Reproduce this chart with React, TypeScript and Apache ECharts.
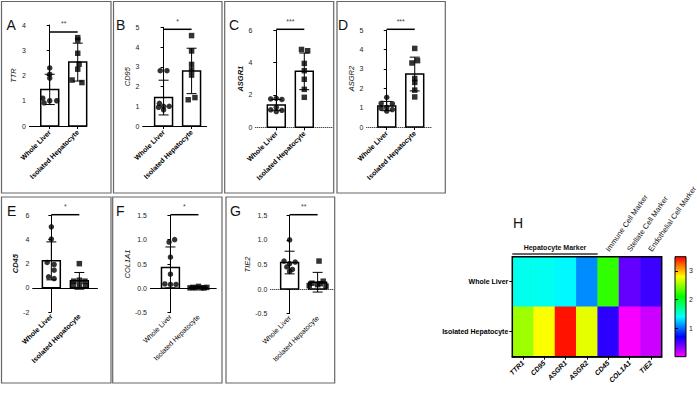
import React, { useEffect, useRef } from 'react';
import * as echarts from 'echarts';

// ---------------- DATA ----------------
const GROUPS = ['Whole Liver', 'Isolated Hepatocyte'];
const GENES = ['TTR1', 'CD95', 'ASGR1', 'ASGR2', 'CD45', 'COL1A1', 'TIE2'];
const MARKER_LABELS = ['', '', '', '', 'Immune Cell Marker', 'Stellate Cell Marker', 'Endothelial Cell Marker'];
const HEAT_ROWS = ['Isolated Hepatocyte', 'Whole Liver'];

// A: TTR
const A_WL = [2.3, 2.05, 1.9, 1.1, 1.0, 1.0, 0.92];
const A_ISO = [3.5, 3.4, 2.88, 2.45, 2.25, 1.82, 1.72];
const A_MEAN = [1.45, 2.53];
const A_SD = [0.6, 0.75];
// B: CD95
const B_WL = [2.8, 2.8, 1.15, 1.0, 1.0, 0.95, 0.82];
const B_ISO = [4.58, 3.8, 3.12, 2.84, 2.58, 1.44, 1.33];
const B_MEAN = [1.44, 2.79];
const B_SD = [0.88, 1.15];
// C: ASGR1
const C_WL = [1.75, 1.79, 1.72, 1.23, 1.08, 1.05, 0.97];
const C_ISO = [4.8, 4.72, 3.94, 3.49, 2.96, 2.34, 1.85];
const C_MEAN = [1.38, 3.45];
const C_SD = [0.33, 1.13];
// D: ASGR2
const D_WL = [1.53, 1.22, 1.2, 1.01, 0.96, 0.9, 0.82];
const D_ISO = [4.05, 3.42, 3.3, 2.5, 2.3, 1.9, 1.55];
const D_MEAN = [1.08, 2.73];
const D_SD = [0.24, 0.87];
// E: CD45
const E_WL = [5.05, 4.03, 2.1, 1.93, 1.46, 0.91, 0.77];
const E_ISO = [2.0, 0.63, 0.55, 0.55, 0.22, 0.17, 0.17];
const E_MEAN = [2.23, 0.58];
const E_SD = [1.57, 0.69];
// F: COL1A1
const F_WL = [1.0, 0.95, 0.64, 0.29, 0.09, 0.08, 0.08];
const F_ISO = [0.04, 0.02, 0.01, 0.01, 0.01, 0.01, 0.02];
const F_MEAN = [0.43, 0.02];
const F_SD = [0.42, 0.015];
// G: TIE2
const G_WL = [1.0, 0.57, 0.55, 0.52, 0.45, 0.4, 0.36];
const G_ISO = [0.57, 0.16, 0.12, 0.09, 0.07, 0.06, 0.11];
const G_MEAN = [0.54, 0.14];
const G_SD = [0.23, 0.2];

// Heatmap (means)
const HEAT_WL = [1.45, 1.44, 1.38, 1.08, 2.23, 0.43, 0.54];
const HEAT_ISO = [2.53, 2.79, 3.45, 2.73, 0.58, 0.02, 0.14];

// point spread (horizontal jitter, in category units)
const JIT = {
  A: [[0, 0, 0, -0.25, 0, 0.25, -0.2], [0, 0, 0, 0.05, 0, -0.2, 0.15]],
  B: [[-0.12, 0.12, -0.15, 0, 0.2, -0.18, 0], [0, 0, 0, 0, 0, 0.12, -0.12]],
  C: [[-0.2, 0, 0.2, 0, -0.2, 0.2, 0], [-0.1, 0.12, 0, 0, 0, 0, 0]],
  D: [[0, -0.2, 0.2, 0, -0.2, 0.2, 0], [0, 0.1, -0.1, 0, 0, 0, 0]],
  E: [[0, 0, -0.15, 0.1, 0.1, -0.1, 0.1], [0, 0, -0.2, 0.2, -0.22, 0, 0.22]],
  F: [[0.15, -0.05, 0, 0, -0.2, 0, 0.2], [0, -0.2, 0.2, -0.1, 0.1, -0.3, 0.3]],
  G: [[0, -0.2, 0.2, 0, -0.1, 0.1, 0], [0.05, 0.2, -0.2, 0, -0.3, 0.3, 0.1]],
};

const COLORS = ['#ff00ff', '#8000ff', '#0000ff', '#0080ff', '#00ffff', '#00ff80', '#00ff00', '#80ff00', '#ffff00', '#ff8000', '#ff0000'];
const HEAT_MIN = 0;
const HEAT_MAX = 3.5;
const CB_TICKS = [1, 2, 3];

// ---------------- LAYOUT ----------------
const FONT = "'Liberation Sans', Arial, sans-serif";
const PXU = 28; // px per category unit
const HALF = 0.32;

type Panel = {
  key: string; letter: string; name: string; nameBold: boolean; labelBold: boolean; dotted: boolean;
  wl: number[]; iso: number[]; mean: number[]; sd: number[]; stars: string;
  left: number; xmin: number; xmax: number; top: number; bottom: number;
  ymin: number; ymax: number; interval: number; dec: number; nameGap: number;
  box: [number, number, number, number]; lx: number; ly: number; sigY: number; starY: number; ticks: boolean;
};

const PANELS: Panel[] = [
  { key: 'A', letter: 'A', name: 'TTR', nameBold: false, labelBold: true, dotted: false, wl: A_WL, iso: A_ISO, mean: A_MEAN, sd: A_SD, stars: '**',
    left: 29, xmin: -0.74, xmax: 1.33, top: 25, bottom: 126, ymin: 0, ymax: 4, interval: 1, dec: 0, nameGap: 12,
    box: [1.5, 1.5, 109.5, 191.5], lx: 6.5, ly: 18, sigY: 32, starY: 23, ticks: true },
  { key: 'B', letter: 'B', name: 'CD95', nameBold: false, labelBold: true, dotted: false, wl: B_WL, iso: B_ISO, mean: B_MEAN, sd: B_SD, stars: '*',
    left: 142.3, xmin: -0.76, xmax: 1.55, top: 27.3, bottom: 126, ymin: 0, ymax: 5, interval: 1, dec: 0, nameGap: 10,
    box: [113.5, 1.5, 108.5, 191.5], lx: 116, ly: 18, sigY: 29.3, starY: 21, ticks: true },
  { key: 'C', letter: 'C', name: 'ASGR1', nameBold: true, labelBold: true, dotted: true, wl: C_WL, iso: C_ISO, mean: C_MEAN, sd: C_SD, stars: '***',
    left: 255.3, xmin: -0.75, xmax: 2.0, top: 30, bottom: 127.3, ymin: 0, ymax: 6, interval: 2, dec: 0, nameGap: 10,
    box: [224.7, 1.5, 109, 191.5], lx: 229, ly: 18, sigY: 29.3, starY: 21, ticks: true },
  { key: 'D', letter: 'D', name: 'ASGR2', nameBold: false, labelBold: true, dotted: true, wl: D_WL, iso: D_ISO, mean: D_MEAN, sd: D_SD, stars: '***',
    left: 366.3, xmin: -0.73, xmax: 1.62, top: 30, bottom: 127, ymin: 0, ymax: 5, interval: 1, dec: 0, nameGap: 10,
    box: [337, 1.5, 108.3, 191.5], lx: 338, ly: 18, sigY: 29.3, starY: 21, ticks: true },
  { key: 'E', letter: 'E', name: 'CD45', nameBold: true, labelBold: true, dotted: false, wl: E_WL, iso: E_ISO, mean: E_MEAN, sd: E_SD, stars: '*',
    left: 32.3, xmin: -0.68, xmax: 1.66, top: 215.3, bottom: 312, ymin: -2, ymax: 6, interval: 2, dec: 0, nameGap: 13,
    box: [1.5, 197, 109.5, 186], lx: 7, ly: 204, sigY: 214.7, starY: 206, ticks: false },
  { key: 'F', letter: 'F', name: 'COL1A1', nameBold: false, labelBold: false, dotted: false, wl: F_WL, iso: F_ISO, mean: F_MEAN, sd: F_SD, stars: '*',
    left: 150, xmin: -0.73, xmax: 1.65, top: 215.3, bottom: 312.7, ymin: -0.5, ymax: 1.5, interval: 0.5, dec: 1, nameGap: 13,
    box: [112.7, 197, 109.3, 186], lx: 116, ly: 204, sigY: 214.7, starY: 206, ticks: false },
  { key: 'G', letter: 'G', name: 'TIE2', nameBold: false, labelBold: false, dotted: true, wl: G_WL, iso: G_ISO, mean: G_MEAN, sd: G_SD, stars: '**',
    left: 270.3, xmin: -0.69, xmax: 1.58, top: 215.3, bottom: 313.7, ymin: -0.5, ymax: 1.5, interval: 0.5, dec: 1, nameGap: 13,
    box: [226, 197, 108.7, 186], lx: 230, ly: 204, sigY: 214.7, starY: 206, ticks: false },
];

const HM = { left: 512.3, top: 256.7, width: 149.4, height: 100 };
const CB = { left: 675, top: 256.7, width: 11, height: 100 };

function buildOption() {
  const grid: any[] = [];
  const xAxis: any[] = [];
  const yAxis: any[] = [];
  const series: any[] = [];
  const graphic: any[] = [];

  PANELS.forEach((p, i) => {
    grid.push({ left: p.left, top: p.top, width: (p.xmax - p.xmin) * PXU, height: p.bottom - p.top, containLabel: false });
    xAxis.push({
      gridIndex: i, type: 'value', min: p.xmin, max: p.xmax,
      axisLine: { show: false, onZero: false }, splitLine: { show: false },
      axisTick: { show: p.ticks, customValues: [0, 1], length: 3, lineStyle: { color: '#000', width: 1 } },
      axisLabel: {
        customValues: [0, 1], rotate: 45, fontSize: 7, fontWeight: p.labelBold ? 'bold' : 'normal', color: '#000',
        margin: p.ticks ? 5 : 3, formatter: (v: number) => GROUPS[Math.round(v)] ?? '',
      },
    });
    yAxis.push({
      gridIndex: i, type: 'value', min: p.ymin, max: p.ymax, interval: p.interval,
      name: p.name, nameLocation: 'middle', nameGap: p.nameGap, nameRotate: 90,
      nameTextStyle: { fontSize: 7.5, fontStyle: 'italic', fontWeight: p.nameBold ? 'bold' : 'normal', color: '#111' },
      axisLine: { show: true, lineStyle: { color: '#000', width: 1 } },
      axisTick: { show: true, length: 3, lineStyle: { color: '#000', width: 1 } },
      axisLabel: { fontSize: 7, color: '#222', margin: 3, formatter: (v: number) => v.toFixed(p.dec) },
      splitLine: { show: false },
    });
    // bars
    series.push({
      type: 'custom', xAxisIndex: i, yAxisIndex: i, z: 2, silent: true,
      data: p.mean.map((m, k) => [k, m]),
      renderItem: (_params: any, api: any) => {
        const x = api.value(0), m = api.value(1);
        const a = api.coord([x - HALF, 0]);
        const b = api.coord([x + HALF, m]);
        return {
          type: 'rect',
          shape: { x: a[0], y: Math.min(a[1], b[1]), width: b[0] - a[0], height: Math.abs(a[1] - b[1]) },
          style: { fill: '#fff', stroke: '#000', lineWidth: 1.5 },
        };
      },
    });
    // error bars
    series.push({
      type: 'custom', xAxisIndex: i, yAxisIndex: i, z: 3, silent: true,
      data: p.mean.map((m, k) => [k, m, p.sd[k]]),
      renderItem: (_params: any, api: any) => {
        const x = api.value(0), m = api.value(1), s = api.value(2);
        const t = api.coord([x, m + s]);
        const b = api.coord([x, m - s]);
        const st = { stroke: '#000', lineWidth: 1 };
        const cw = 5;
        return {
          type: 'group', children: [
            { type: 'line', shape: { x1: t[0], y1: t[1], x2: b[0], y2: b[1] }, style: st },
            { type: 'line', shape: { x1: t[0] - cw, y1: t[1], x2: t[0] + cw, y2: t[1] }, style: st },
            { type: 'line', shape: { x1: b[0] - cw, y1: b[1], x2: b[0] + cw, y2: b[1] }, style: st },
          ],
        };
      },
    });
    const jit = (JIT as any)[p.key];
    series.push({
      type: 'scatter', xAxisIndex: i, yAxisIndex: i, z: 4, silent: true,
      symbol: 'circle', symbolSize: 5.5, itemStyle: { color: '#000' },
      data: p.wl.map((v, k) => [0 + jit[0][k], v]),
      markLine: {
        silent: true, symbol: 'none', label: { show: false },
        lineStyle: { color: '#000', width: 1, type: p.dotted ? 'dotted' : 'solid' },
        data: [{ yAxis: 0 }],
      },
    });
    series.push({
      type: 'scatter', xAxisIndex: i, yAxisIndex: i, z: 4, silent: true,
      symbol: 'rect', symbolSize: 5.5, itemStyle: { color: '#000' },
      data: p.iso.map((v, k) => [1 + jit[1][k], v]),
    });

    // box, letter, significance
    graphic.push({ type: 'rect', shape: { x: p.box[0], y: p.box[1], width: p.box[2], height: p.box[3] }, style: { fill: 'none', stroke: '#666', lineWidth: 1.2 }, silent: true });
    graphic.push({ type: 'text', x: p.lx, y: p.ly, style: { text: p.letter, fontSize: 14, fontFamily: FONT, fill: '#111' }, silent: true });
    const c0 = p.left + (0 - p.xmin) * PXU;
    const c1 = p.left + (1 - p.xmin) * PXU;
    graphic.push({ type: 'line', shape: { x1: c0, y1: p.sigY, x2: c1, y2: p.sigY }, style: { stroke: '#000', lineWidth: 1.5 }, silent: true });
    graphic.push({ type: 'text', x: (c0 + c1) / 2, y: p.starY, style: { text: p.stars, fontSize: 7, fontFamily: FONT, fill: '#444', align: 'center', verticalAlign: 'middle' }, silent: true });
  });

  // heatmap grid
  const hg = grid.length;
  grid.push({ left: HM.left, top: HM.top, width: HM.width, height: HM.height });
  const hx = xAxis.length;
  xAxis.push({
    gridIndex: hg, type: 'category', data: GENES,
    axisLine: { show: true, lineStyle: { color: '#000', width: 1.5 } },
    axisTick: { show: true, alignWithLabel: true, length: 3, lineStyle: { color: '#000' } },
    axisLabel: { interval: 0, rotate: 45, fontSize: 7, fontWeight: 'bold', fontStyle: 'italic', color: '#000', margin: 5 },
    splitLine: { show: false },
  });
  const hy = yAxis.length;
  yAxis.push({
    gridIndex: hg, type: 'category', data: HEAT_ROWS,
    axisLine: { show: true, lineStyle: { color: '#000', width: 1.5 } },
    axisTick: { show: true, alignWithLabel: true, length: 3, lineStyle: { color: '#000' } },
    axisLabel: { fontSize: 7, fontWeight: 'bold', color: '#000', margin: 4 },
    splitLine: { show: false },
  });
  const heatData: number[][] = [];
  GENES.forEach((_g, k) => {
    heatData.push([k, 1, HEAT_WL[k]]);
    heatData.push([k, 0, HEAT_ISO[k]]);
  });
  const heatSeriesIndex = series.length;
  series.push({ type: 'heatmap', xAxisIndex: hx, yAxisIndex: hy, data: heatData, silent: true, z: 2 });

  // marker labels above the heatmap (rotated)
  const colW = HM.width / GENES.length;
  MARKER_LABELS.forEach((lab, k) => {
    if (!lab) return;
    graphic.push({
      type: 'text', x: HM.left + (k + 0.5) * colW - 1, y: HM.top - 6, rotation: (55 * Math.PI) / 180, silent: true,
      style: { text: lab, fontSize: 7.5, fontFamily: FONT, fill: '#111', align: 'left', verticalAlign: 'middle' },
    });
  });

  // colorbar axis
  const cg = grid.length;
  grid.push({ left: CB.left, top: CB.top, width: CB.width, height: CB.height });
  xAxis.push({ gridIndex: cg, type: 'value', show: false, min: 0, max: 1 });
  yAxis.push({
    gridIndex: cg, type: 'value', position: 'right', min: HEAT_MIN, max: HEAT_MAX,
    axisLine: { show: false }, splitLine: { show: false },
    axisTick: { show: true, customValues: CB_TICKS, length: 3, lineStyle: { color: '#000' } },
    axisLabel: { customValues: CB_TICKS, fontSize: 7, color: '#222', margin: 3 },
  });

  graphic.push({
    type: 'rect', shape: { x: CB.left, y: CB.top, width: CB.width, height: CB.height }, silent: true,
    style: {
      stroke: '#000', lineWidth: 1,
      fill: { type: 'linear', x: 0, y: 1, x2: 0, y2: 0, colorStops: COLORS.map((c, k) => ({ offset: k / (COLORS.length - 1), color: c })) },
    },
  });
  graphic.push({ type: 'rect', shape: { x: HM.left, y: HM.top, width: HM.width, height: HM.height }, style: { fill: 'none', stroke: '#000', lineWidth: 1.5 }, silent: true, z: 100 });
  graphic.push({ type: 'text', x: 513, y: 216, style: { text: 'H', fontSize: 14, fontFamily: FONT, fill: '#111' }, silent: true });
  const hmEnd = HM.left + colW * 4;
  graphic.push({ type: 'text', x: (HM.left + hmEnd) / 2, y: 247, style: { text: 'Hepatocyte Marker', fontSize: 7, fontWeight: 'bold', fontFamily: FONT, fill: '#111', align: 'center', verticalAlign: 'middle' }, silent: true });
  graphic.push({ type: 'line', shape: { x1: HM.left, y1: 254, x2: hmEnd, y2: 254 }, style: { stroke: '#333', lineWidth: 1.5 }, silent: true });

  return {
    animation: false,
    backgroundColor: '#fff',
    textStyle: { fontFamily: FONT },
    grid, xAxis, yAxis, series, graphic,
    visualMap: [{
      type: 'continuous', show: false, min: HEAT_MIN, max: HEAT_MAX, dimension: 2,
      seriesIndex: heatSeriesIndex, inRange: { color: COLORS },
    }],
  };
}

export default function App() {
  const ref = useRef<HTMLDivElement>(null);
  useEffect(() => {
    if (!ref.current) return;
    const chart = echarts.init(ref.current, undefined, { renderer: 'svg' });
    chart.setOption(buildOption() as any);
    return () => chart.dispose();
  }, []);
  return <div ref={ref} style={{ position: 'fixed', left: 0, top: 0, width: 697, height: 397 }} />;
}
